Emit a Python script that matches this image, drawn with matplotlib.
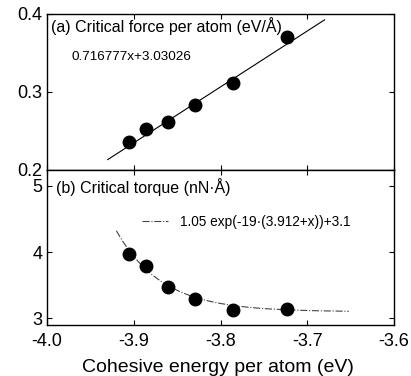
import numpy as np
import matplotlib
matplotlib.use("Agg")
import matplotlib.pyplot as plt

plt.rcParams['font.family'] = ['Liberation Sans', 'DejaVu Sans']

# cohesive energy per atom (eV)
energy = [-3.906, -3.886, -3.860, -3.829, -3.786, -3.723]
# critical force per atom (eV/A)
force = [0.236, 0.253, 0.261, 0.283, 0.312, 0.370]
# critical torque (nN*A)
torque = [3.97, 3.79, 3.48, 3.30, 3.12, 3.14]

fit_x_a = np.linspace(-3.93, -3.68, 50)
fit_x_b = np.linspace(-3.92, -3.652, 200)

fig = plt.figure(figsize=(4.11, 3.76), dpi=100)
ax1 = fig.add_axes([47/411, 1 - 170/376, 347/411, 156/376])
ax2 = fig.add_axes([47/411, 1 - 325/376, 347/411, 155/376], sharex=ax1)

# (a) force
ax1.plot(fit_x_a, 0.716777 * fit_x_a + 3.03026, color='black', lw=0.8)
ax1.plot(energy, force, 'o', color='black', ms=9)
ax1.set_ylim(0.2, 0.4)
ax1.set_yticks([0.2, 0.3, 0.4])
ax1.set_yticklabels(['0.2', '0.3', '0.4'])
ax1.text(-3.995, 0.385, '(a) Critical force per atom (eV/Å)', fontsize=11.5, va='center')
ax1.text(-3.972, 0.3445, '0.716777x+3.03026', fontsize=9.7, va='center')
ax1.tick_params(axis='x', labelbottom=False, direction='in', top=True)
ax1.tick_params(axis='y', direction='in', right=True, labelsize=13)

# (b) torque
fit_b = 1.05 * np.exp(-19 * (3.912 + fit_x_b)) + 3.1
ax2.plot(fit_x_b, fit_b, color='#444444', lw=0.8, ls='-.',
         label='1.05 exp(-19·(3.912+x))+3.1')
ax2.plot(energy, torque, 'o', color='black', ms=9)
ax2.set_ylim(2.9, 5.24)
ax2.set_yticks([3, 4, 5])
ax2.set_xlim(-4.0, -3.6)
ax2.set_xticks([-4.0, -3.9, -3.8, -3.7, -3.6])
ax2.set_xticklabels(['-4.0', '-3.9', '-3.8', '-3.7', '-3.6'])
ax2.text(-3.99, 4.98, '(b) Critical torque (nN·Å)', fontsize=11.5, va='center')
ax2.legend(loc='center left', bbox_to_anchor=(95/347, 0.665), frameon=False,
           fontsize=9.8, handlelength=1.9, handletextpad=0.9,
           borderpad=0, borderaxespad=0)
ax2.tick_params(axis='x', direction='in', top=True, labelsize=13, pad=6)
ax2.tick_params(axis='y', direction='in', right=True, labelsize=13)

fig.text(218/411, 1 - 372/376, 'Cohesive energy per atom (eV)', fontsize=14,
         ha='center', va='baseline')

for ax in (ax1, ax2):
    for s in ax.spines.values():
        s.set_linewidth(1.0)

fig.savefig('out.png', dpi=100)
